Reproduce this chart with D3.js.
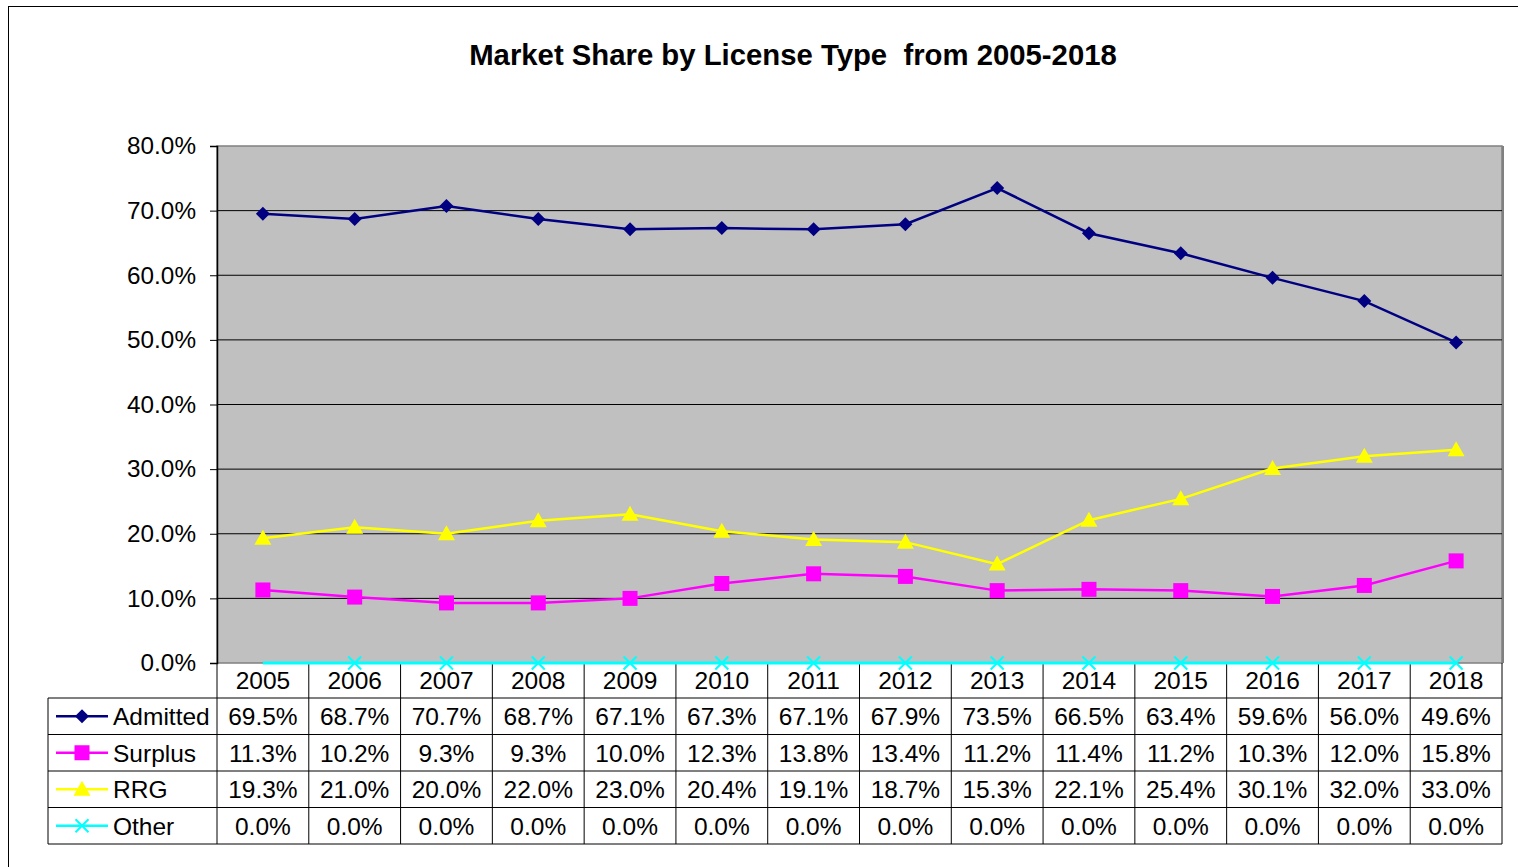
<!DOCTYPE html>
<html>
<head>
<meta charset="utf-8">
<script src="https://cdn.jsdelivr.net/npm/d3@7"></script>
<style>
  body { margin: 0; background: #fff; }
  text { font-family: "Liberation Sans", Arial, sans-serif; fill: #000; }
</style>
</head>
<body>
<div id="chart"></div>
<script>
// --- DATOS ---
const years = ["2005","2006","2007","2008","2009","2010","2011","2012","2013","2014","2015","2016","2017","2018"];
const admitted = [69.5, 68.7, 70.7, 68.7, 67.1, 67.3, 67.1, 67.9, 73.5, 66.5, 63.4, 59.6, 56.0, 49.6];
const surplus  = [11.3, 10.2, 9.3, 9.3, 10.0, 12.3, 13.8, 13.4, 11.2, 11.4, 11.2, 10.3, 12.0, 15.8];
const rrg      = [19.3, 21.0, 20.0, 22.0, 23.0, 20.4, 19.1, 18.7, 15.3, 22.1, 25.4, 30.1, 32.0, 33.0];
const other    = [0, 0, 0, 0, 0, 0, 0, 0, 0, 0, 0, 0, 0, 0];
const yTicks = [0, 10, 20, 30, 40, 50, 60, 70, 80];

const series = [
  { name: "Admitted", values: admitted, color: "#000080", marker: "diamond" },
  { name: "Surplus",  values: surplus,  color: "#FF00FF", marker: "square" },
  { name: "RRG",      values: rrg,      color: "#FFFF00", marker: "triangle" },
  { name: "Other",    values: other,    color: "#00FFFF", marker: "cross" }
];

// --- SVG ---
const W = 1518, H = 867;
const svg = d3.select("#chart").append("svg")
    .attr("width", W).attr("height", H);

// marco exterior
svg.append("rect")
    .attr("x", 8.5).attr("y", 6.5)
    .attr("width", W + 10).attr("height", H + 10)
    .attr("fill", "#fff").attr("stroke", "#000").attr("stroke-width", 1);

// titulo
svg.append("text")
    .attr("x", 793).attr("y", 65)
    .attr("text-anchor", "middle")
    .attr("font-size", "29.3px").attr("font-weight", "bold")
    .attr("xml:space", "preserve")
    .text("Market Share by License Type  from 2005-2018");

const plot = { left: 217, top: 146, right: 1502, bottom: 663 };

const x = d3.scaleBand()
    .domain(years)
    .range([plot.left, plot.right]);

const y = d3.scaleLinear()
    .domain([0, 80])
    .range([plot.bottom, plot.top]);

// fondo gris + sombra
svg.append("rect")
    .attr("x", plot.left + 2).attr("y", plot.top)
    .attr("width", plot.right - plot.left).attr("height", plot.bottom - plot.top)
    .attr("fill", "#808080");
svg.append("rect")
    .attr("x", plot.left).attr("y", plot.top)
    .attr("width", plot.right - plot.left).attr("height", plot.bottom - plot.top)
    .attr("fill", "#C0C0C0").attr("stroke", "#808080").attr("stroke-width", 1.5);

// grid
svg.selectAll(".grid")
    .data(yTicks.filter(d => d > 0 && d < 80))
    .enter().append("line")
    .attr("x1", plot.left).attr("x2", plot.right)
    .attr("y1", d => y(d)).attr("y2", d => y(d))
    .attr("stroke", "#000").attr("stroke-width", 1);

// Eje Y
const yAxis = svg.append("g")
    .attr("transform", `translate(${plot.left},0)`)
    .call(d3.axisLeft(y).tickValues(yTicks).tickSize(7).tickPadding(14)
        .tickFormat(d => d.toFixed(1) + "%"));
yAxis.select(".domain").attr("stroke", "#000").attr("stroke-width", 1.5);
yAxis.selectAll("text").attr("font-size", "24.3px").attr("font-family", "Liberation Sans, Arial, sans-serif");

// --- TABLA ---
const rowH = 36.5;
const headerTop = plot.bottom, headerBottom = plot.bottom + 35;
const tableLeft = 48;
const fs = "24.5px";
const g = svg.append("g");

// cabecera de años
g.selectAll(".year")
    .data(years)
    .enter().append("text")
    .attr("x", d => x(d) + x.bandwidth() / 2)
    .attr("y", headerTop + 26)
    .attr("text-anchor", "middle")
    .attr("font-size", fs)
    .text(d => d);

const tableBottom = headerBottom + rowH * series.length;

// lineas verticales
const vlines = years.map(d => x(d)).concat([plot.right]);
g.selectAll(".vline")
    .data(vlines)
    .enter().append("line")
    .attr("x1", d => d).attr("x2", d => d)
    .attr("y1", headerTop).attr("y2", tableBottom)
    .attr("stroke", "#000").attr("stroke-width", 1);
g.append("line")
    .attr("x1", tableLeft).attr("x2", tableLeft)
    .attr("y1", headerBottom).attr("y2", tableBottom)
    .attr("stroke", "#000");

// lineas horizontales
d3.range(series.length + 1).forEach(i => {
    g.append("line")
        .attr("x1", tableLeft).attr("x2", plot.right)
        .attr("y1", headerBottom + i * rowH).attr("y2", headerBottom + i * rowH)
        .attr("stroke", "#000");
});

// marcadores
function drawMarker(sel, type, color, cx, cy) {
    if (type === "diamond") {
        sel.append("path")
            .attr("d", `M${cx},${cy - 7}L${cx + 7},${cy}L${cx},${cy + 7}L${cx - 7},${cy}Z`)
            .attr("fill", color);
    } else if (type === "square") {
        sel.append("rect")
            .attr("x", cx - 7.5).attr("y", cy - 7.5).attr("width", 15).attr("height", 15)
            .attr("fill", color);
    } else if (type === "triangle") {
        sel.append("path")
            .attr("d", `M${cx},${cy - 8.5}L${cx + 8.5},${cy + 6.5}L${cx - 8.5},${cy + 6.5}Z`)
            .attr("fill", color);
    } else {
        sel.append("path")
            .attr("d", `M${cx - 6.5},${cy - 6.5}L${cx + 6.5},${cy + 6.5}M${cx + 6.5},${cy - 6.5}L${cx - 6.5},${cy + 6.5}`)
            .attr("stroke", color).attr("stroke-width", 2).attr("fill", "none");
    }
}

series.forEach((s, i) => {
    const cy = headerBottom + i * rowH + rowH / 2;
    // leyenda
    g.append("line")
        .attr("x1", 56).attr("x2", 108)
        .attr("y1", cy).attr("y2", cy)
        .attr("stroke", s.color).attr("stroke-width", 2.5);
    drawMarker(g, s.marker, s.color, 82, cy);
    g.append("text")
        .attr("x", 113).attr("y", cy + 9)
        .attr("font-size", fs)
        .text(s.name);
    // valores
    g.selectAll(".val" + i)
        .data(s.values)
        .enter().append("text")
        .attr("x", (d, j) => x(years[j]) + x.bandwidth() / 2)
        .attr("y", cy + 9)
        .attr("text-anchor", "middle")
        .attr("font-size", fs)
        .text(d => d.toFixed(1) + "%");
});

// --- LINEAS ---
const line = d3.line()
    .x((d, j) => x(years[j]) + x.bandwidth() / 2)
    .y(d => y(d));

series.slice().reverse().forEach(s => {
    svg.append("path")
        .datum(s.values)
        .attr("d", line)
        .attr("fill", "none")
        .attr("stroke", s.color)
        .attr("stroke-width", s.name === "Other" ? 3 : 2.5);
    const mg = svg.append("g");
    s.values.forEach((v, j) => {
        // el primer punto de "Other" queda oculto en el original
        if (s.name === "Other" && j === 0) return;
        drawMarker(mg, s.marker, s.color, x(years[j]) + x.bandwidth() / 2, y(v));
    });
});
</script>
</body>
</html>
